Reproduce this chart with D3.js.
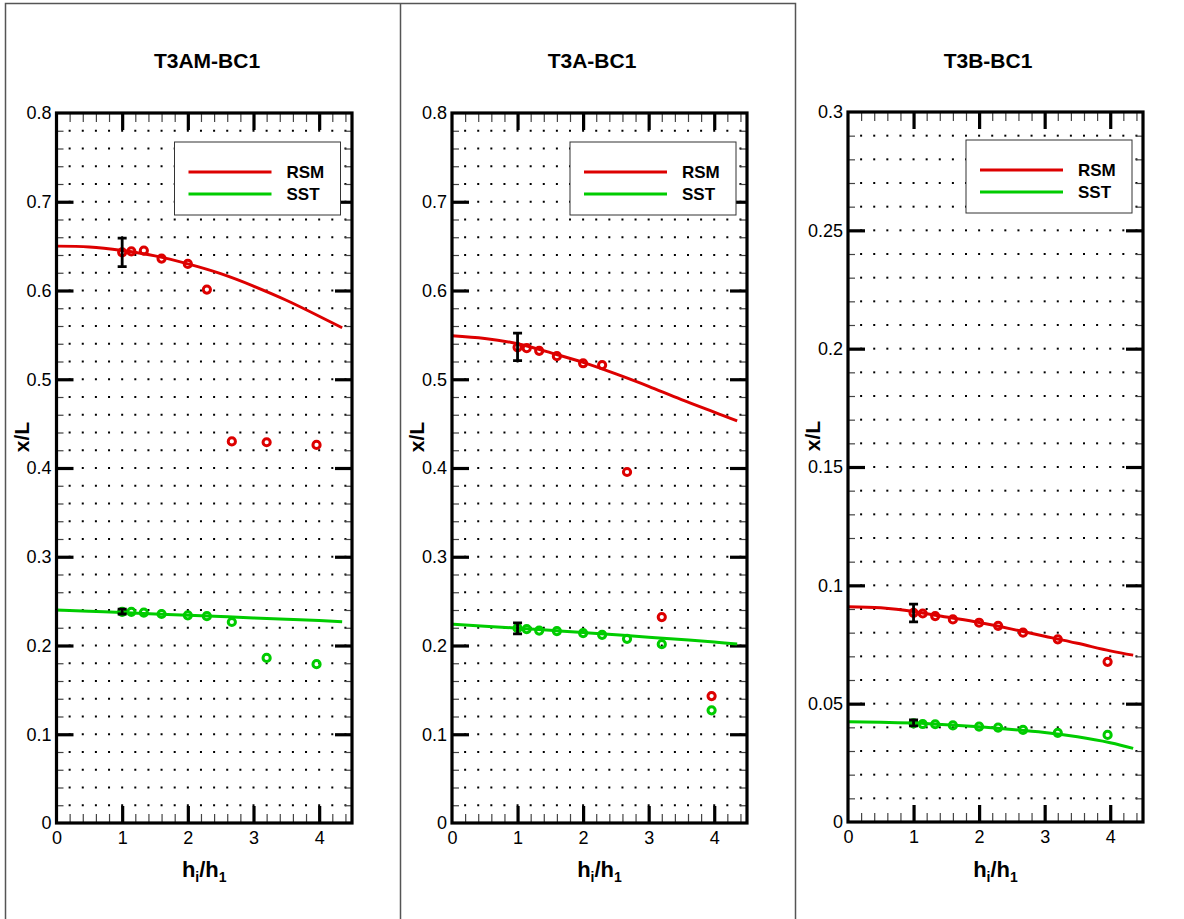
<!DOCTYPE html>
<html>
<head>
<meta charset="utf-8">
<script src="https://d3js.org/d3.v7.min.js"></script>
<style>
    body { margin: 0; background: #fff; }
    svg { display: block; font-family: "Liberation Sans", Arial, Helvetica, sans-serif; }
</style>
</head>
<body>
<svg id="drawing_region"></svg>
<script>
// h_i/h_1 of the measured points, and the abscissa of the computed curves
const hRatio = [1, 1.14, 1.33, 1.6, 2, 2.29, 2.67, 3.2, 3.96];
const curveX = [0, 0.5, 1, 1.5, 2, 2.5, 3, 3.5, 4, 4.35];

// T3AM-BC1
const t3amRsmPts  = [0.643, 0.644, 0.645, 0.636, 0.630, 0.601, 0.430, 0.429, 0.426];
const t3amSstPts  = [0.238, 0.238, 0.237, 0.2355, 0.234, 0.233, 0.2265, 0.186, 0.179];
const t3amRsmLine = [0.650, 0.649, 0.645, 0.639, 0.630, 0.619, 0.605, 0.589, 0.571, 0.558];
const t3amSstLine = [0.240, 0.2386, 0.2371, 0.2356, 0.2341, 0.2326, 0.2311, 0.2296, 0.2281, 0.2268];
const t3amRsmErr  = [0.627, 0.659];
const t3amSstErr  = [0.2355, 0.241];

// T3A-BC1
const t3aRsmPts  = [0.536, 0.535, 0.532, 0.526, 0.518, 0.516, 0.3955, 0.232, 0.143];
const t3aSstPts  = [0.2195, 0.2185, 0.2168, 0.2162, 0.214, 0.212, 0.2075, 0.2015, 0.127];
const t3aRsmLine = [0.549, 0.546, 0.540, 0.530, 0.519, 0.506, 0.492, 0.477, 0.463, 0.453];
const t3aSstLine = [0.2240, 0.2218, 0.2195, 0.2171, 0.2146, 0.2120, 0.2093, 0.2067, 0.2040, 0.2017];
const t3aRsmErr  = [0.521, 0.552];
const t3aSstErr  = [0.213, 0.2254];

// T3B-BC1
const t3bRsmPts  = [0.0884, 0.0881, 0.0870, 0.0856, 0.0842, 0.0829, 0.0800, 0.0772, 0.0677];
const t3bSstPts  = [0.0417, 0.0414, 0.0413, 0.0408, 0.0403, 0.0399, 0.0389, 0.0377, 0.0368];
const t3bRsmLine = [0.0910, 0.0905, 0.0889, 0.0866, 0.0843, 0.0815, 0.0785, 0.0755, 0.0723, 0.0705];
const t3bSstLine = [0.0424, 0.0422, 0.0418, 0.0411, 0.0402, 0.0391, 0.0378, 0.0360, 0.0335, 0.0311];
const t3bRsmErr  = [0.0846, 0.0921];
const t3bSstErr  = [0.0406, 0.0431];

const titles = ['T3AM-BC1', 'T3A-BC1', 'T3B-BC1'];
const legendLabels = ['RSM', 'SST'];
const xMajorTicks = [0, 1, 2, 3, 4];
const yMajorTicksA = [0, 0.1, 0.2, 0.3, 0.4, 0.5, 0.6, 0.7, 0.8];
const yMajorTicksB = [0, 0.05, 0.1, 0.15, 0.2, 0.25, 0.3];

const RED = '#dd0000';
const GREEN = '#00cc00';

const svg = d3.select('#drawing_region')
    .attr('width', 1184)
    .attr('height', 919);

// outer frames of the panels
svg.append('path')
    .attr('d', 'M5.5,919 V3.5 H795.5 V919 M400.5,3.5 V919')
    .attr('fill', 'none')
    .attr('stroke', '#555')
    .attr('stroke-width', 1.5);

class Panel {

    constructor( config, data ) {
        this.config = config;
        this.data = data;
        this.init();
    }

    init() {
        let self = this;
        const c = self.config;

        self.chart = svg.append('g')
            .attr('transform', `translate(${c.left}, ${c.top})`);

        self.xscale = d3.scaleLinear()
            .domain([0, 4.5])
            .range([0, c.width]);

        self.yscale = d3.scaleLinear()
            .domain([0, c.yMax])
            .range([c.height, 0]);
    }

    render() {
        let self = this;
        const c = self.config;
        const w = c.width, h = c.height;

        // grid of dots at the minor tick positions
        const dotX = d3.range(1, 23).map(i => i * 0.2);
        const dotY = d3.range(1, Math.round(c.yMax / c.yMinor)).map(i => i * c.yMinor);
        const dots = [];
        dotX.forEach(x => dotY.forEach(y => dots.push([x, y])));
        self.chart.append('g')
            .selectAll('rect')
            .data(dots)
            .join('rect')
            .attr('x', d => self.xscale(d[0]) - 1)
            .attr('y', d => self.yscale(d[1]) - 1)
            .attr('width', 2)
            .attr('height', 2)
            .attr('fill', '#000');

        // minor ticks
        const xMinor = dotX.filter((d, i) => (i + 1) % 5 !== 0);
        const yMinor = dotY.filter((d, i) => Math.abs((i + 1) * c.yMinor / c.yMajor - Math.round((i + 1) * c.yMinor / c.yMajor)) > 1e-6);
        const minorAxes = [
            [d3.axisBottom(self.xscale).tickValues(xMinor), `translate(0,${h})`],
            [d3.axisTop(self.xscale).tickValues(xMinor), 'translate(0,0)'],
        ];
        minorAxes.forEach(([ax, tr]) => {
            const g = self.chart.append('g').attr('transform', tr)
                .call(ax.tickSize(-9).tickFormat(''));
            g.select('.domain').remove();
            g.selectAll('line').attr('stroke', '#444').attr('stroke-width', 1.2);
        });
        const minorYAxes = [
            [d3.axisLeft(self.yscale).tickValues(yMinor), 'translate(0,0)'],
            [d3.axisRight(self.yscale).tickValues(yMinor), `translate(${w},0)`],
        ];
        minorYAxes.forEach(([ax, tr]) => {
            const g = self.chart.append('g').attr('transform', tr)
                .call(ax.tickSize(-7).tickFormat(''));
            g.select('.domain').remove();
            g.selectAll('line').attr('stroke', '#444').attr('stroke-width', 1.2);
        });

        // major ticks with labels on the left and bottom
        const fmt = d3.format('~g');
        const xInner = xMajorTicks.filter(d => d > 0);
        const yInner = c.yTicks.filter(d => d > 0 && d < c.yMax);

        const xaxis = self.chart.append('g')
            .attr('transform', `translate(0,${h})`)
            .call(d3.axisBottom(self.xscale).tickValues(xMajorTicks).tickSize(-17).tickPadding(7).tickFormat(fmt));
        const yaxis = self.chart.append('g')
            .call(d3.axisLeft(self.yscale).tickValues(c.yTicks).tickSize(-17).tickPadding(5).tickFormat(fmt));
        const topaxis = self.chart.append('g')
            .call(d3.axisTop(self.xscale).tickValues(xInner).tickSize(-17).tickFormat(''));
        const rightaxis = self.chart.append('g')
            .attr('transform', `translate(${w},0)`)
            .call(d3.axisRight(self.yscale).tickValues(yInner).tickSize(-17).tickFormat(''));

        [xaxis, yaxis, topaxis, rightaxis].forEach(g => {
            g.select('.domain').remove();
            g.attr('font-family', null).attr('font-size', null);
            g.selectAll('line').attr('stroke', '#000').attr('stroke-width', 3.2);
            g.selectAll('text').attr('fill', '#000').style('font-size', '18px');
        });
        xaxis.selectAll('line').filter(d => d === 0).remove();
        yaxis.selectAll('line').filter(d => d === 0 || Math.abs(d - c.yMax) < 1e-9).remove();
        xaxis.selectAll('text').attr('dy', '0.8em');

        // curves
        const line = d3.line()
            .x(d => self.xscale(d[0]))
            .y(d => self.yscale(d[1]))
            .curve(d3.curveNatural);

        self.data.curves.forEach(s => {
            self.chart.append('path')
                .datum(curveX.map((x, i) => [x, s.values[i]]))
                .attr('fill', 'none')
                .attr('stroke', s.color)
                .attr('stroke-width', 3)
                .attr('d', line);
        });

        // measured points
        self.data.points.forEach(s => {
            self.chart.append('g')
                .selectAll('circle')
                .data(hRatio.map((x, i) => [x, s.values[i]]))
                .join('circle')
                .attr('cx', d => self.xscale(d[0]))
                .attr('cy', d => self.yscale(d[1]))
                .attr('r', 3.6)
                .attr('fill', 'none')
                .attr('stroke', s.color)
                .attr('stroke-width', 3);
        });

        // error bars at h_i/h_1 = 1
        self.chart.append('g')
            .selectAll('path')
            .data(self.data.errors)
            .join('path')
            .attr('d', d => {
                const x = self.xscale(hRatio[0]);
                const y0 = self.yscale(d[0]), y1 = self.yscale(d[1]);
                return `M${x - 4.5},${y0} H${x + 4.5} M${x},${y0} V${y1} M${x - 4.5},${y1} H${x + 4.5}`;
            })
            .attr('fill', 'none')
            .attr('stroke', '#000')
            .attr('stroke-width', 2.8);

        // frame
        self.chart.append('rect')
            .attr('width', w)
            .attr('height', h)
            .attr('fill', 'none')
            .attr('stroke', '#000')
            .attr('stroke-width', 3.2);

        // legend
        const lg = self.chart.append('g')
            .attr('transform', `translate(118, ${c.legendTop})`);
        lg.append('rect')
            .attr('width', 166)
            .attr('height', 73)
            .attr('fill', '#fff')
            .attr('stroke', '#333')
            .attr('stroke-width', 1);
        const items = lg.selectAll('g.item')
            .data(legendLabels)
            .join('g')
            .attr('class', 'item')
            .attr('transform', (d, i) => `translate(0, ${30 + i * 22})`);
        items.append('line')
            .attr('x1', 14).attr('x2', 97)
            .attr('stroke', (d, i) => i === 0 ? RED : GREEN)
            .attr('stroke-width', 3.2);
        items.append('text')
            .attr('x', 112)
            .attr('y', 6)
            .attr('font-size', 17)
            .attr('font-weight', 'bold')
            .text(d => d);

        // titles
        svg.append('text')
            .attr('x', c.titleX)
            .attr('y', 68)
            .attr('text-anchor', 'middle')
            .attr('font-size', 21)
            .attr('font-weight', 'bold')
            .text(c.title);

        svg.append('text')
            .attr('transform', `translate(${c.left - 28}, ${c.top + 324}) rotate(-90)`)
            .attr('text-anchor', 'middle')
            .attr('font-size', 21)
            .attr('font-weight', 'bold')
            .text('x/L');

        const xl = svg.append('text')
            .attr('x', c.left + w / 2)
            .attr('y', 877)
            .attr('text-anchor', 'middle')
            .attr('font-size', 22)
            .attr('font-weight', 'bold');
        xl.append('tspan').text('h');
        xl.append('tspan').attr('font-size', 14).attr('dy', 5).text('i');
        xl.append('tspan').attr('dy', -5).text('/h');
        xl.append('tspan').attr('font-size', 14).attr('dy', 5).text('1');
    }
}

const panels = [
    { config: { title: titles[0], titleX: 207, left: 56.5, top: 113, width: 295.5, height: 710,
                yMax: 0.8, yMajor: 0.1, yMinor: 0.02, yTicks: yMajorTicksA, legendTop: 29 },
      data: { curves: [{ values: t3amRsmLine, color: RED }, { values: t3amSstLine, color: GREEN }],
              points: [{ values: t3amRsmPts, color: RED }, { values: t3amSstPts, color: GREEN }],
              errors: [t3amRsmErr, t3amSstErr] } },
    { config: { title: titles[1], titleX: 592, left: 452, top: 113, width: 295, height: 710,
                yMax: 0.8, yMajor: 0.1, yMinor: 0.02, yTicks: yMajorTicksA, legendTop: 29 },
      data: { curves: [{ values: t3aRsmLine, color: RED }, { values: t3aSstLine, color: GREEN }],
              points: [{ values: t3aRsmPts, color: RED }, { values: t3aSstPts, color: GREEN }],
              errors: [t3aRsmErr, t3aSstErr] } },
    { config: { title: titles[2], titleX: 988, left: 848, top: 112, width: 295, height: 710,
                yMax: 0.3, yMajor: 0.05, yMinor: 0.01, yTicks: yMajorTicksB, legendTop: 28 },
      data: { curves: [{ values: t3bRsmLine, color: RED }, { values: t3bSstLine, color: GREEN }],
              points: [{ values: t3bRsmPts, color: RED }, { values: t3bSstPts, color: GREEN }],
              errors: [t3bRsmErr, t3bSstErr] } },
];

panels.forEach(p => {
    const panel = new Panel(p.config, p.data);
    panel.render();
});
</script>
</body>
</html>
